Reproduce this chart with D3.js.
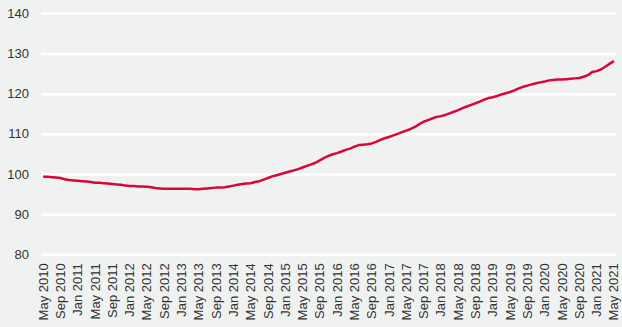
<!DOCTYPE html>
<html lang="en">
<head>
<meta charset="UTF-8">
<title>Index</title>
<script src="https://d3js.org/d3.v7.min.js"></script>
<style>
  body { margin: 0; background: #eff2f1; }
  svg { display: block; }
  .axis text { font-family: "Liberation Sans", Arial, sans-serif; font-size: 13px; fill: #333; }
  .axis .domain { display: none; }
  .grid line { stroke: #ffffff; stroke-width: 2.5; }
</style>
</head>
<body>
<svg id="chart" width="622" height="327"></svg>
<script>
// monthly index values, May 2010 .. May 2021
const monthNames = ["Jan","Feb","Mar","Apr","May","Jun","Jul","Aug","Sep","Oct","Nov","Dec"];
const values = [
  99.3, 99.3, 99.2, 99.1, 99.0, 98.7, 98.5, 98.4,                          // 2010 May-Dec
  98.3, 98.2, 98.1, 98.0, 97.8, 97.8, 97.7, 97.6, 97.5, 97.4, 97.3, 97.1,  // 2011
  97.0, 97.0, 96.9, 96.9, 96.8, 96.7, 96.5, 96.4, 96.3, 96.3, 96.3, 96.3,  // 2012
  96.3, 96.3, 96.3, 96.2, 96.2, 96.3, 96.4, 96.5, 96.6, 96.6, 96.7, 96.9,  // 2013
  97.1, 97.3, 97.5, 97.6, 97.7, 98.0, 98.2, 98.6, 99.0, 99.4, 99.7, 100.0, // 2014
  100.3, 100.6, 100.9, 101.2, 101.6, 102.0, 102.4, 102.8, 103.4, 104.0, 104.5, 104.9, // 2015
  105.2, 105.6, 106.0, 106.3, 106.8, 107.2, 107.3, 107.4, 107.6, 108.0, 108.5, 108.9, // 2016
  109.2, 109.6, 110.0, 110.4, 110.8, 111.2, 111.7, 112.4, 113.0, 113.4, 113.8, 114.2, // 2017
  114.4, 114.7, 115.1, 115.5, 115.9, 116.4, 116.8, 117.2, 117.6, 118.0, 118.5, 118.9, // 2018
  119.1, 119.4, 119.8, 120.1, 120.4, 120.8, 121.3, 121.7, 122.0, 122.3, 122.6, 122.8, // 2019
  123.0, 123.3, 123.4, 123.5, 123.5, 123.6, 123.7, 123.8, 123.9, 124.2, 124.6, 125.4, // 2020
  125.6, 126.0, 126.7, 127.4, 128.1                                         // 2021 Jan-May
];
const months = values.map((v, i) => {
  const m = (4 + i) % 12, yr = 2010 + Math.floor((4 + i) / 12);
  return monthNames[m] + " " + yr;
});
const yTicks = [80, 90, 100, 110, 120, 130, 140];

const svg = d3.select("#chart");
const mLeft = 41, mRight = 616, mTop = 13.3, mBottom = 254.3;

svg.append("rect").attr("width", 622).attr("height", 327).attr("fill", "#eff2f1");

const x = d3.scaleBand().domain(months).range([mLeft, mRight]);
const y = d3.scaleLinear().domain([80, 140]).range([mBottom, mTop]);

// y axis + gridlines
svg.append("g").attr("class", "axis grid")
  .attr("transform", `translate(${mLeft},0)`)
  .call(d3.axisLeft(y).tickValues(yTicks).tickSize(-(mRight - mLeft)).tickPadding(12));

// x axis, every 4th month
svg.append("g").attr("class", "axis")
  .attr("transform", `translate(0,${mBottom})`)
  .call(d3.axisBottom(x).tickValues(months.filter((d, i) => i % 4 === 0)).tickSize(0))
  .selectAll("text")
  .attr("y", 0).attr("x", -9).attr("dy", "0.35em")
  .attr("transform", "rotate(-90)")
  .style("text-anchor", "end");

const line = d3.line()
  .x((d, i) => x(months[i]) + x.bandwidth() / 2)
  .y(d => y(d));

svg.append("path").datum(values)
  .attr("fill", "none")
  .attr("stroke", "#d7063b")
  .attr("stroke-width", 2.5)
  .attr("stroke-linejoin", "round")
  .attr("d", line);
</script>
</body>
</html>
